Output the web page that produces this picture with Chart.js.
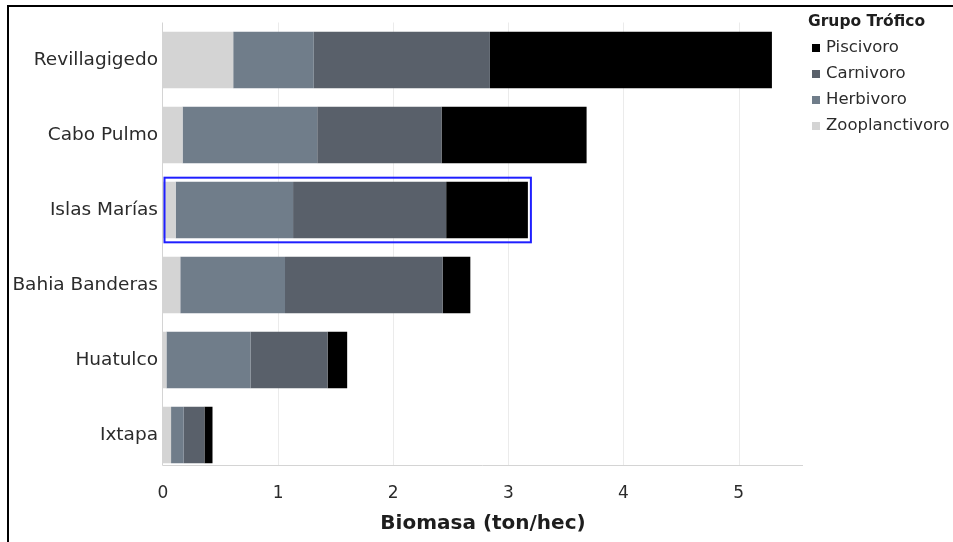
<!DOCTYPE html>
<html><head><meta charset="utf-8">
<script src="https://cdn.jsdelivr.net/npm/chart.js@4/dist/chart.umd.min.js"></script>
<style>
html,body{margin:0;padding:0;background:#fff;overflow:hidden}
#wrap{position:relative;width:953px;height:542px;overflow:hidden}
#frame{position:absolute;left:7px;top:5px;width:980px;height:580px;border-left:2px solid #000;border-top:2px solid #000;pointer-events:none}
</style></head>
<body><div id="wrap"><canvas id="c" width="953" height="542"></canvas><div id="frame"></div></div>
<script>
const categories = ['Revillagigedo','Cabo Pulmo','Islas Marías','Bahia Banderas','Huatulco','Ixtapa'];
const zooplanctivoro = [0.61, 0.17, 0.11, 0.15, 0.03, 0.07];
const herbivoro      = [0.70, 1.17, 1.02, 0.91, 0.73, 0.11];
const carnivoro      = [1.53, 1.08, 1.33, 1.37, 0.67, 0.18];
const piscivoro      = [2.45, 1.26, 0.71, 0.24, 0.17, 0.07];
const xTicks = [0, 1, 2, 3, 4, 5];
const seriesNames = ['Zooplanctivoro','Herbivoro','Carnivoro','Piscivoro'];
const legendTitle = 'Grupo Trófico';
const axisTitle = 'Biomasa (ton/hec)';
const selectedCategory = 'Islas Marías';

const FONT = "'DejaVu Sans', sans-serif";

const axesPlugin = {
  id: 'axesLines',
  beforeDatasetsDraw(chart) {
    const {ctx, chartArea, scales: {x}} = chart;
    const meta = chart.getDatasetMeta(0);
    const last = meta.data[meta.data.length - 1];
    const axisBottom = Math.round(last.y + last.height / 2) + 2.5;
    ctx.save();
    ctx.lineWidth = 1;
    ctx.strokeStyle = '#ebebeb';
    xTicks.forEach(v => {
      if (v === 0) return;
      const px = Math.round(x.getPixelForValue(v)) + 0.5;
      ctx.beginPath(); ctx.moveTo(px, chartArea.top); ctx.lineTo(px, axisBottom); ctx.stroke();
    });
    ctx.strokeStyle = '#d4d4d4';
    const x0 = Math.round(x.getPixelForValue(0)) - 0.5;
    ctx.beginPath(); ctx.moveTo(x0, chartArea.top); ctx.lineTo(x0, axisBottom); ctx.lineTo(chartArea.right, axisBottom); ctx.stroke();
    ctx.restore();
  }
};

const selectionPlugin = {
  id: 'selection',
  afterDatasetsDraw(chart) {
    const idx = categories.indexOf(selectedCategory);
    if (idx < 0) return;
    const {ctx, scales: {x}} = chart;
    const lastMeta = chart.getDatasetMeta(chart.data.datasets.length - 1);
    const el = lastMeta.data[idx];
    const left = x.getPixelForValue(0) + 1.5;
    const right = el.x + 3;
    const top = el.y - el.height / 2 - 4;
    const bottom = el.y + el.height / 2 + 4;
    ctx.save();
    ctx.strokeStyle = '#1f1fff';
    ctx.lineWidth = 2;
    ctx.strokeRect(left, top, right - left, bottom - top);
    ctx.restore();
  }
};

const legendPlugin = {
  id: 'rightLegend',
  afterDraw(chart) {
    const {ctx, chartArea} = chart;
    const x0 = chartArea.right + 5;
    ctx.save();
    ctx.textBaseline = 'middle';
    ctx.textAlign = 'left';
    ctx.fillStyle = '#1e1e1e';
    ctx.font = 'bold 15.5px ' + FONT;
    ctx.fillText(legendTitle, x0, 22);
    ctx.font = '16.5px ' + FONT;
    const ds = chart.data.datasets.slice().reverse();
    ds.forEach((d, i) => {
      const y = 48 + i * 26;
      ctx.fillStyle = d.backgroundColor;
      ctx.fillRect(x0 + 4, y - 4, 8, 8);
      ctx.fillStyle = '#2b2b2b';
      ctx.fillText(d.label, x0 + 18, y);
    });
    ctx.restore();
  }
};

const colors = ['#d4d4d4', '#707d8a', '#59606a', '#000000'];
const values = [zooplanctivoro, herbivoro, carnivoro, piscivoro];

new Chart(document.getElementById('c'), {
  type: 'bar',
  data: {
    labels: categories,
    datasets: seriesNames.map((n, i) => ({label: n, data: values[i], backgroundColor: colors[i], borderWidth: 0}))
  },
  options: {
    indexAxis: 'y',
    responsive: false,
    animation: false,
    devicePixelRatio: 1,
    layout: {padding: {top: 22.5, right: 150, bottom: 0, left: 0}},
    datasets: {bar: {categoryPercentage: 1, barPercentage: 0.755}},
    plugins: {legend: {display: false}, tooltip: {enabled: false}},
    scales: {
      x: {
        stacked: true, min: 0, max: 5.56,
        afterBuildTicks: s => { s.ticks = xTicks.map(v => ({value: v})); },
        afterFit: s => { s.height = 69.5; },
        grid: {display: false, drawTicks: false},
        border: {display: false},
        ticks: {padding: 11, color: '#2b2b2b', font: {family: FONT, size: 17}},
        title: {display: true, text: axisTitle, color: '#1e1e1e', font: {family: FONT, size: 20, weight: 'bold'}, padding: {top: 0, bottom: 6}}
      },
      y: {
        stacked: true,
        afterFit: s => { s.width = 163; },
        grid: {display: false, drawTicks: false},
        border: {display: false},
        ticks: {padding: 5, color: '#2b2b2b', font: {family: FONT, size: 18.5}}
      }
    }
  },
  plugins: [axesPlugin, selectionPlugin, legendPlugin]
});
</script>
</body></html>
